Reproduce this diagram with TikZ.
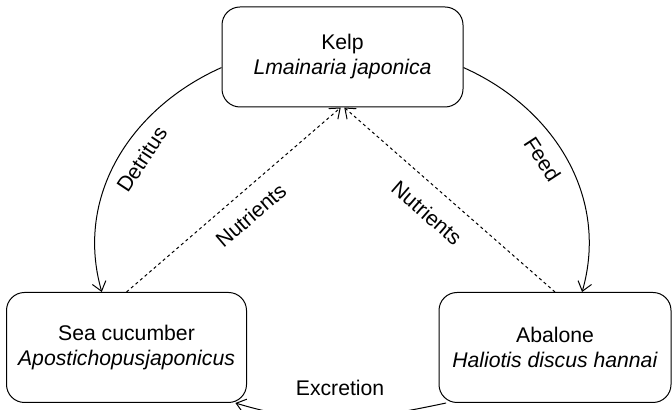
\documentclass[tikz,border=0pt]{standalone}
\usepackage{fontspec}
\setmainfont{Liberation Sans}
\usetikzlibrary{arrows.meta}

\begin{document}
\begin{tikzpicture}[x=0.5pt,y=0.5pt,
  species/.style={draw,black,line width=0.5pt,rounded corners=9pt,align=center,inner sep=0pt,minimum height=55pt,font=\fontsize{10.6}{12.5}\selectfont},
  flow/.style={-{Straight Barb[length=4.5pt,width=7pt]},line width=0.5pt},
  nutrient/.style={flow,dash pattern=on 1.5pt off 1.5pt},
  lbl/.style={font=\fontsize{10.6}{12.5}\selectfont}]
\useasboundingbox (0,0) rectangle (672,410);

\node[species,minimum width=120.5pt,minimum height=50pt] (kelp) at (342.5,353) {Kelp\\\textit{Lmainaria japonica}};
\node[species,minimum width=120pt] (seacuc) at (126.5,62.5) {Sea cucumber\\\textit{Apostichopusjaponicus}};
\node[species,minimum width=116pt] (abalone) at (555,62.5) {Abalone\\\textit{Haliotis discus hannai}};

\draw[flow] (kelp.185) to[out=204,in=106] node[lbl,sloped,below=3pt,pos=0.45] {Detritus} (seacuc.114);
\draw[flow] (kelp.355) to[out=-24,in=74] node[lbl,sloped,below=3pt,pos=0.45] {Feed} (abalone.64);

\draw[nutrient] (seacuc.north) -- node[lbl,sloped,below=4pt,pos=0.51] {Nutrients} (kelp.268);
\draw[nutrient] (abalone.north) -- node[lbl,sloped,below=5pt,pos=0.53] {Nutrients} (kelp.272);

\draw[flow] (abalone.207) to[out=192,in=-17] node[lbl,above=8pt] {Excretion} (seacuc.333);
\end{tikzpicture}
\end{document}
